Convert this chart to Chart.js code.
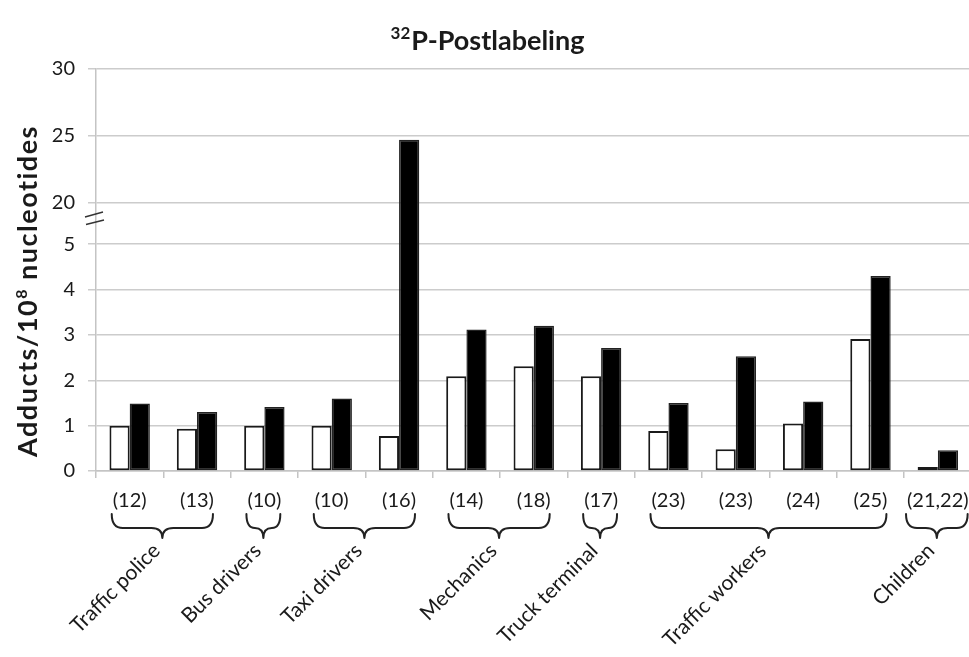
<!DOCTYPE html>
<html>
<head>
<meta charset="utf-8">
<script src="https://cdn.jsdelivr.net/npm/chart.js@4.4.1/dist/chart.umd.min.js"></script>
<style>
  html, body { margin: 0; padding: 0; overflow: hidden; background: #ffffff; }
  canvas { display: block; }
</style>
</head>
<body>
<canvas id="chart" width="980" height="657"></canvas>
<script>
// Number of subjects in each study, shown under each pair of bars
const sampleSizes = ['(12)', '(13)', '(10)', '(10)', '(16)', '(14)', '(18)', '(17)', '(23)', '(23)', '(24)', '(25)', '(21,22)'];

// Occupational groups and the studies (by index) each one spans
const groupNames = ['Traffic police', 'Bus drivers', 'Taxi drivers', 'Mechanics', 'Truck terminal', 'Traffic workers', 'Children'];
const groupFirst = [0, 2, 3, 5, 7, 8, 12];
const groupLast  = [1, 2, 4, 6, 7, 11, 12];

// Adducts per 10^8 nucleotides
const controlValues = [1.00, 0.93, 1.00, 1.00, 0.77, 2.09, 2.31, 2.09, 0.88, 0.48, 1.05, 2.91, 0.09];
const exposedValues = [1.49, 1.30, 1.41, 1.60, 24.7, 3.12, 3.20, 2.71, 1.50, 2.53, 1.53, 4.30, 0.46];

// Value axis: lower segment 0-5, break, upper segment 20-30
const yTickValues = [0, 1, 2, 3, 4, 5, 20, 25, 30];
const LOWER_TOP = 5, UPPER_BOTTOM = 20, AXIS_MAX = 30;

// Size of the break gap and compression of the upper segment (in lower-segment units)
const BREAK_GAP = 0.92;
const UPPER_FACTOR = 0.2944;

function toAxis(v) {
  if (v <= LOWER_TOP) return v;
  if (v >= UPPER_BOTTOM) return LOWER_TOP + BREAK_GAP + (v - UPPER_BOTTOM) * UPPER_FACTOR;
  return LOWER_TOP + BREAK_GAP * (v - LOWER_TOP) / (UPPER_BOTTOM - LOWER_TOP);
}
function fromAxis(a) {
  if (a <= LOWER_TOP) return a;
  if (a >= LOWER_TOP + BREAK_GAP) return UPPER_BOTTOM + (a - LOWER_TOP - BREAK_GAP) / UPPER_FACTOR;
  return LOWER_TOP + (a - LOWER_TOP) * (UPPER_BOTTOM - LOWER_TOP) / BREAK_GAP;
}

// Linear scale with a broken range
class BrokenLinearScale extends Chart.LinearScale {
  static id = 'brokenLinear';
  buildTicks() {
    return yTickValues.filter(v => v >= this.min && v <= this.max).map(v => ({ value: v }));
  }
  configure() {
    super.configure();
    this._startValue = toAxis(this.min);
    this._endValue = toAxis(this.max);
    this._valueRange = this._endValue - this._startValue;
  }
  getPixelForValue(value) {
    if (value === null || value === undefined || isNaN(value)) return NaN;
    return this.getPixelForDecimal((toAxis(value) - this._startValue) / this._valueRange);
  }
  getValueForPixel(pixel) {
    return fromAxis(this._startValue + this.getDecimalForPixel(pixel) * this._valueRange);
  }
}
Chart.register(BrokenLinearScale);

const FONT = 'Lato, "Open Sans", sans-serif';
const TEXT = '#1a1a1a';
const TICK_FONT = { family: FONT, size: 20 };

function drawBrace(ctx, xL, xR, yTop, yMid, yTip) {
  const xc = (xL + xR) / 2;
  const r = Math.min(11, (xR - xL) / 4);
  ctx.beginPath();
  ctx.moveTo(xL, yTop);
  ctx.quadraticCurveTo(xL, yMid, xL + r, yMid);
  ctx.lineTo(xc - r, yMid);
  ctx.quadraticCurveTo(xc, yMid, xc, yTip);
  ctx.quadraticCurveTo(xc, yMid, xc + r, yMid);
  ctx.lineTo(xR - r, yMid);
  ctx.quadraticCurveTo(xR, yMid, xR, yTop);
  ctx.stroke();
}

// Title, axis title, axis-break marks, group braces and group names
const annotations = {
  id: 'annotations',
  afterDraw(chart) {
    const ctx = chart.ctx;
    const x = chart.scales.x;
    const y = chart.scales.y;

    // Title with superscript mass number
    ctx.save();
    ctx.fillStyle = TEXT;
    ctx.textBaseline = 'alphabetic';
    const supFont = 'bold 17px ' + FONT;
    const mainFont = 'bold 27px ' + FONT;
    ctx.font = supFont;
    const wSup = ctx.measureText('32').width;
    ctx.font = mainFont;
    const wMain = ctx.measureText('P-Postlabeling').width;
    const tx = 487 - (wSup + wMain) / 2;
    ctx.font = supFont;
    ctx.textAlign = 'left';
    ctx.fillText('32', tx, 39);
    ctx.font = mainFont;
    ctx.fillText('P-Postlabeling', tx + wSup + 1, 50);
    ctx.restore();

    // Rotated value-axis title
    ctx.save();
    ctx.fillStyle = TEXT;
    ctx.translate(37, 291);
    ctx.rotate(-Math.PI / 2);
    ctx.letterSpacing = '1.5px';
    const bigFont = 'bold 27px ' + FONT;
    const smallFont = 'bold 16px ' + FONT;
    ctx.font = bigFont;
    const w1 = ctx.measureText('Adducts/10').width;
    const w3 = ctx.measureText(' nucleotides').width;
    ctx.font = smallFont;
    const w2 = ctx.measureText('8').width;
    let cx = -(w1 + w2 + w3) / 2;
    ctx.textAlign = 'left';
    ctx.textBaseline = 'alphabetic';
    ctx.font = bigFont;
    ctx.fillText('Adducts/10', cx, 0);
    cx += w1;
    ctx.font = smallFont;
    ctx.fillText('8', cx, -10);
    cx += w2;
    ctx.font = bigFont;
    ctx.fillText(' nucleotides', cx, 0);
    ctx.restore();

    // Axis-break marks between 5 and 20
    const yLow = y.getPixelForValue(LOWER_TOP);
    const yHigh = y.getPixelForValue(UPPER_BOTTOM);
    const yb = yHigh + 0.37 * (yLow - yHigh);
    const ax = chart.chartArea.left;
    ctx.save();
    ctx.strokeStyle = '#333333';
    ctx.lineWidth = 1.4;
    ctx.beginPath();
    ctx.moveTo(ax - 11, yb - 1);
    ctx.lineTo(ax + 7, yb - 6);
    ctx.moveTo(ax - 10, yb + 6.5);
    ctx.lineTo(ax + 8, yb + 2);
    ctx.stroke();
    ctx.restore();

    // Group braces and rotated group names
    ctx.save();
    ctx.font = TICK_FONT.size + 'px ' + FONT;
    const widths = sampleSizes.map(s => ctx.measureText(s).width);
    ctx.strokeStyle = '#222222';
    ctx.lineWidth = 2;
    ctx.lineJoin = 'round';
    ctx.lineCap = 'round';
    const yTop = 514, yMid = 528, yTip = 538;
    groupNames.forEach((name, g) => {
      const i0 = groupFirst[g], i1 = groupLast[g];
      const xL = x.getPixelForValue(i0) - widths[i0] / 2 - 1;
      const xR = x.getPixelForValue(i1) + widths[i1] / 2 - 1;
      drawBrace(ctx, xL, xR, yTop, yMid, yTip);
      const xc = (xL + xR) / 2;
      ctx.save();
      ctx.translate(xc - 1, yTip + 14);
      ctx.rotate(-Math.PI / 4);
      ctx.font = '21px ' + FONT;
      ctx.fillStyle = TEXT;
      ctx.textAlign = 'right';
      ctx.textBaseline = 'alphabetic';
      ctx.fillText(name, 0, 0);
      ctx.restore();
    });
    ctx.restore();
  }
};

new Chart(document.getElementById('chart'), {
  type: 'bar',
  data: {
    labels: sampleSizes,
    datasets: [
      {
        label: 'Controls',
        data: controlValues,
        backgroundColor: '#ffffff',
        borderColor: '#1a1a1a',
        borderWidth: 2,
        borderSkipped: false
      },
      {
        label: 'Exposed',
        data: exposedValues,
        backgroundColor: '#000000',
        borderColor: '#222222',
        borderWidth: 1.5,
        borderSkipped: false
      }
    ]
  },
  options: {
    responsive: false,
    animation: false,
    events: [],
    layout: { padding: { top: 69, left: 0, right: 8.5, bottom: 0 } },
    datasets: { bar: { categoryPercentage: 0.6, barPercentage: 1.0 } },
    plugins: {
      legend: { display: false },
      title: { display: false },
      tooltip: { enabled: false }
    },
    scales: {
      x: {
        type: 'category',
        afterFit: s => { s.height = 186; },
        grid: { drawOnChartArea: false, drawTicks: true, tickLength: 7, color: '#c4c4c4', lineWidth: 1.5, offset: true },
        border: { display: true, color: '#c4c4c4', width: 1.5 },
        ticks: { font: TICK_FONT, color: TEXT, maxRotation: 0, minRotation: 0, autoSkip: false, padding: 11 }
      },
      y: {
        type: 'brokenLinear',
        min: 0,
        max: AXIS_MAX,
        afterFit: s => { s.width = 96; },
        grid: { color: '#cccccc', lineWidth: 1.5, tickLength: 8, drawTicks: true },
        border: { display: true, color: '#c4c4c4', width: 1.5 },
        ticks: { font: TICK_FONT, color: TEXT, padding: 13, callback: v => String(v) }
      }
    }
  },
  plugins: [annotations]
});
</script>
</body>
</html>
